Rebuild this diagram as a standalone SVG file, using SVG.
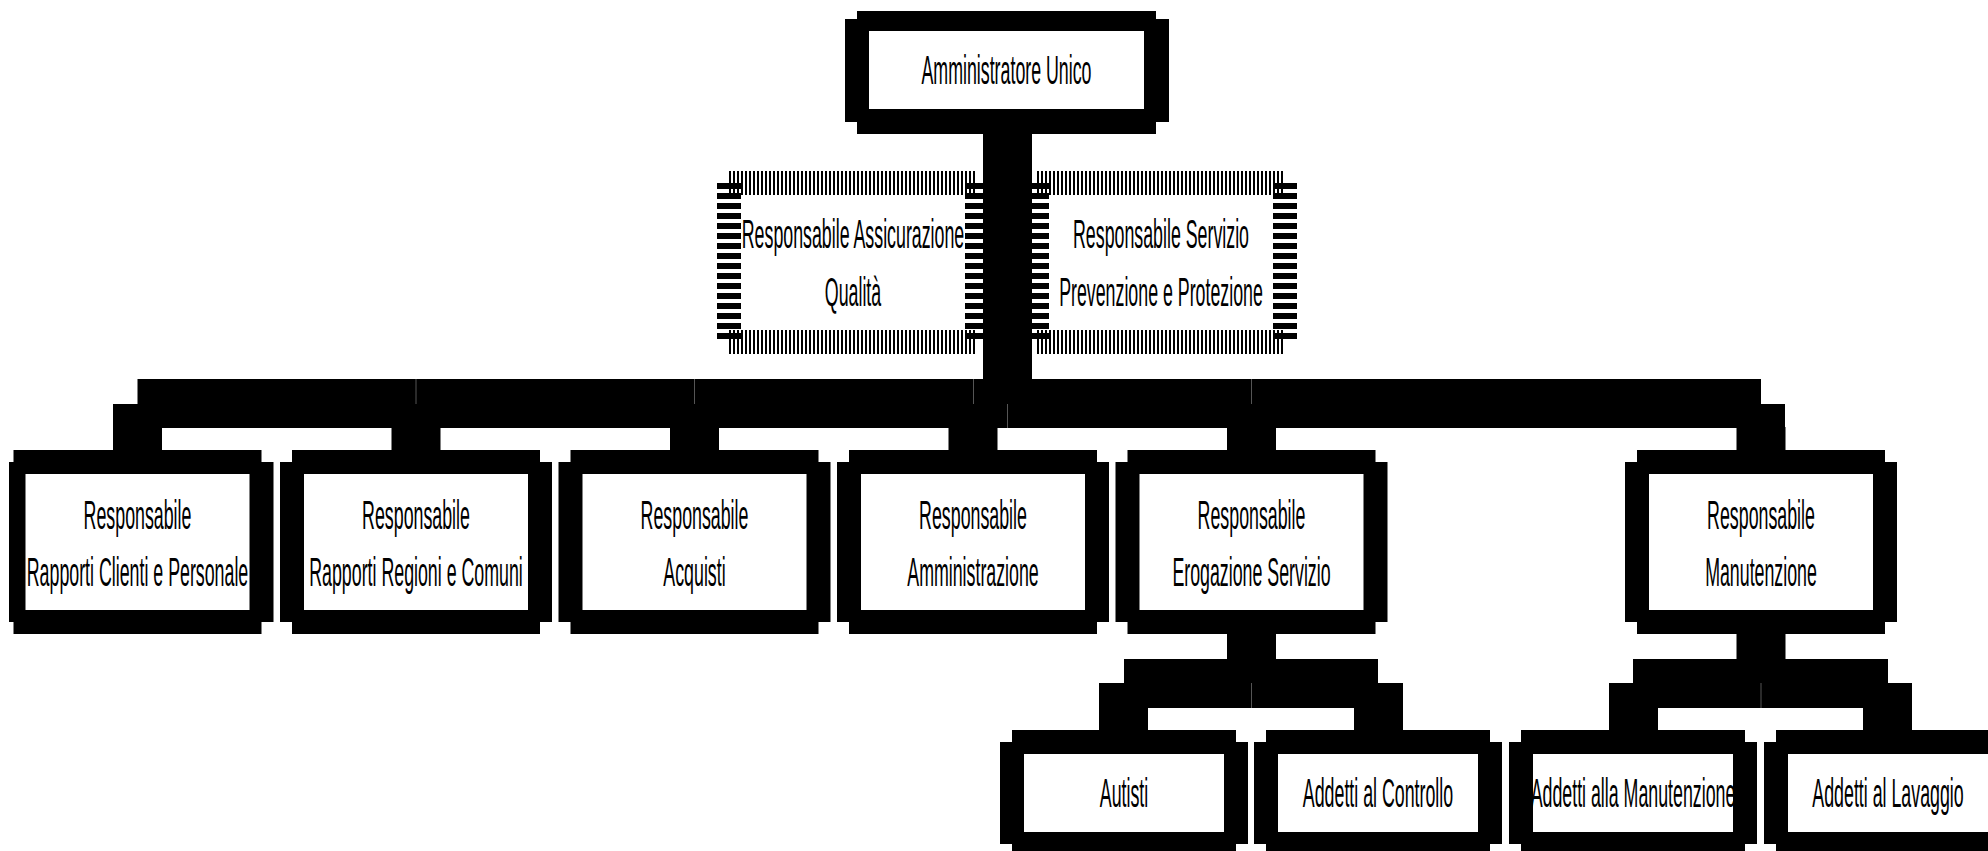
<svg xmlns="http://www.w3.org/2000/svg" width="1988" height="851" viewBox="0 0 1988 851">
<style>
.b{fill:#000}
.w{fill:#fff}
.t{font-family:"Liberation Sans",Arial,sans-serif;font-size:40px;fill:#000;text-anchor:middle}
.hh{stroke:#000;stroke-width:24;stroke-dasharray:2 2;fill:none}
.hv{stroke:#000;stroke-width:24;stroke-dasharray:6 4;fill:none}
.seam{stroke:#555;stroke-width:1}
</style>
<rect width="1988" height="851" fill="#fff"/>

<g id="node-qualita">
<line class="hh" x1="729" y1="183" x2="977" y2="183"/>
<line class="hh" x1="729" y1="342" x2="977" y2="342"/>
<line class="hv" x1="729" y1="183" x2="729" y2="343"/>
<line class="hv" x1="977" y1="183" x2="977" y2="343"/>
<text class="t" transform="translate(853 248) scale(0.445 1)">Responsabile Assicurazione</text>
<text class="t" transform="translate(853 306) scale(0.445 1)">Qualità</text>
</g>

<g id="node-prevenzione">
<line class="hh" x1="1037" y1="183" x2="1285" y2="183"/>
<line class="hh" x1="1037" y1="342" x2="1285" y2="342"/>
<line class="hv" x1="1037" y1="183" x2="1037" y2="343"/>
<line class="hv" x1="1285" y1="183" x2="1285" y2="343"/>
<text class="t" transform="translate(1161 248) scale(0.445 1)">Responsabile Servizio</text>
<text class="t" transform="translate(1161 306) scale(0.445 1)">Prevenzione e Protezione</text>
</g>

<g id="connectors">
<rect class="b" x="983" y="134" width="49" height="250"/>
<polygon class="b" points="137.5,379 1761,379 1761,404 1785,404 1785,428 113,428 113,404 137.5,404"/>
<rect class="b" x="113" y="427" width="49" height="24"/>
<rect class="b" x="391.5" y="427" width="49" height="24"/>
<rect class="b" x="670" y="427" width="49" height="24"/>
<rect class="b" x="948.5" y="427" width="49" height="24"/>
<rect class="b" x="1227" y="427" width="49" height="24"/>
<rect class="b" x="1736.5" y="427" width="49" height="24"/>
<line class="seam" x1="416" y1="379" x2="416" y2="404"/>
<line class="seam" x1="694.5" y1="379" x2="694.5" y2="404"/>
<line class="seam" x1="973.5" y1="379" x2="973.5" y2="404"/>
<line class="seam" x1="1251.5" y1="379" x2="1251.5" y2="404"/>
<line class="seam" x1="1007.5" y1="404" x2="1007.5" y2="428"/>
<rect class="b" x="1227" y="633" width="49" height="27"/>
<polygon class="b" points="1124,659 1378,659 1378,683 1403,683 1403,708 1099,708 1099,683 1124,683"/>
<rect class="b" x="1099" y="707" width="49" height="24"/>
<rect class="b" x="1354" y="707" width="49" height="24"/>
<line class="seam" x1="1251.5" y1="683" x2="1251.5" y2="708"/>
<rect class="b" x="1736.5" y="633" width="49" height="27"/>
<polygon class="b" points="1633,659 1888,659 1888,683 1912,683 1912,708 1609,708 1609,683 1633,683"/>
<rect class="b" x="1609" y="707" width="49" height="24"/>
<rect class="b" x="1863" y="707" width="49" height="24"/>
<line class="seam" x1="1761" y1="683" x2="1761" y2="708"/>
</g>

<g id="node-amministratore">
<rect class="b" x="845" y="19" width="324" height="103"/>
<rect class="b" x="857" y="11" width="299" height="123"/>
<rect class="w" x="869" y="31" width="275" height="78"/>
<text class="t" transform="translate(1006.5 84) scale(0.445 1)">Amministratore Unico</text>
</g>

<g id="node-rapporti-clienti">
<rect class="b" x="9" y="462" width="264.5" height="160"/>
<rect class="b" x="13.5" y="450" width="248" height="184"/>
<rect class="w" x="25.5" y="474" width="224" height="136"/>
<text class="t" transform="translate(137.5 529) scale(0.445 1)">Responsabile</text>
<text class="t" transform="translate(137.5 586) scale(0.445 1)">Rapporti Clienti e Personale</text>
</g>

<g id="node-rapporti-regioni">
<rect class="b" x="280" y="462" width="272" height="160"/>
<rect class="b" x="292" y="450" width="248" height="184"/>
<rect class="w" x="304" y="474" width="224" height="136"/>
<text class="t" transform="translate(416 529) scale(0.445 1)">Responsabile</text>
<text class="t" transform="translate(416 586) scale(0.445 1)">Rapporti Regioni e Comuni</text>
</g>

<g id="node-acquisti">
<rect class="b" x="558.5" y="462" width="272" height="160"/>
<rect class="b" x="570.5" y="450" width="248" height="184"/>
<rect class="w" x="582.5" y="474" width="224" height="136"/>
<text class="t" transform="translate(694.5 529) scale(0.445 1)">Responsabile</text>
<text class="t" transform="translate(694.5 586) scale(0.445 1)">Acquisti</text>
</g>

<g id="node-amministrazione">
<rect class="b" x="837" y="462" width="272" height="160"/>
<rect class="b" x="849" y="450" width="248" height="184"/>
<rect class="w" x="861" y="474" width="224" height="136"/>
<text class="t" transform="translate(973 529) scale(0.445 1)">Responsabile</text>
<text class="t" transform="translate(973 586) scale(0.445 1)">Amministrazione</text>
</g>

<g id="node-erogazione">
<rect class="b" x="1115.5" y="462" width="272" height="160"/>
<rect class="b" x="1127.5" y="450" width="248" height="184"/>
<rect class="w" x="1139.5" y="474" width="224" height="136"/>
<text class="t" transform="translate(1251.5 529) scale(0.445 1)">Responsabile</text>
<text class="t" transform="translate(1251.5 586) scale(0.445 1)">Erogazione Servizio</text>
</g>

<g id="node-manutenzione">
<rect class="b" x="1625" y="462" width="272" height="160"/>
<rect class="b" x="1637" y="450" width="248" height="184"/>
<rect class="w" x="1649" y="474" width="224" height="136"/>
<text class="t" transform="translate(1761 529) scale(0.445 1)">Responsabile</text>
<text class="t" transform="translate(1761 586) scale(0.445 1)">Manutenzione</text>
</g>

<g id="node-autisti">
<rect class="b" x="1000" y="742" width="248" height="102"/>
<rect class="b" x="1012" y="730" width="224" height="126"/>
<rect class="w" x="1024" y="754" width="200" height="78"/>
<text class="t" transform="translate(1124 807) scale(0.445 1)">Autisti</text>
</g>

<g id="node-controllo">
<rect class="b" x="1254" y="742" width="248" height="102"/>
<rect class="b" x="1266" y="730" width="224" height="126"/>
<rect class="w" x="1278" y="754" width="200" height="78"/>
<text class="t" transform="translate(1378 807) scale(0.445 1)">Addetti al Controllo</text>
</g>

<g id="node-addetti-manutenzione">
<rect class="b" x="1509" y="742" width="248" height="102"/>
<rect class="b" x="1521" y="730" width="224" height="126"/>
<rect class="w" x="1533" y="754" width="200" height="78"/>
<text class="t" transform="translate(1633 807) scale(0.445 1)">Addetti alla Manutenzione</text>
</g>

<g id="node-lavaggio">
<rect class="b" x="1764" y="742" width="248" height="102"/>
<rect class="b" x="1776" y="730" width="224" height="126"/>
<rect class="w" x="1788" y="754" width="200" height="78"/>
<text class="t" transform="translate(1888 807) scale(0.445 1)">Addetti al Lavaggio</text>
</g>
</svg>
